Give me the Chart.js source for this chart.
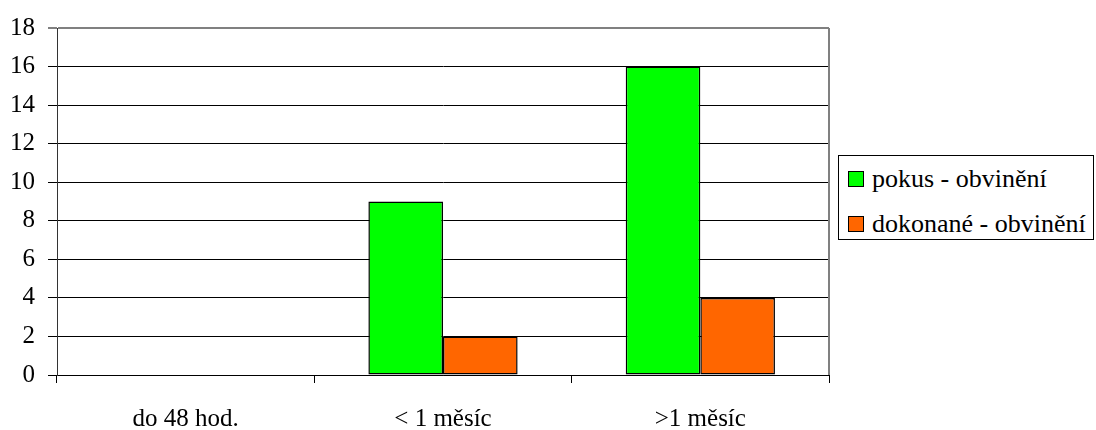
<!DOCTYPE html>
<html>
<head>
<meta charset="utf-8">
<script src="https://cdn.jsdelivr.net/npm/chart.js@4/dist/chart.umd.min.js"></script>
<style>
  html, body { margin: 0; padding: 0; background: #fff; }
  #wrap { position: relative; width: 1096px; height: 430px; }
  #c { position: absolute; left: 0; top: 0; }
  #legend {
    position: absolute; left: 838px; top: 155px; width: 254px; height: 83px;
    border: 1px solid #000; background: #fff; color: #000;
  }
  .item { position: absolute; left: 9px; display: flex; align-items: center; white-space: nowrap; }
  .sw { width: 14px; height: 14px; border: 1px solid #000; margin-right: 8px; flex: none; }
</style>
</head>
<body>
<div id="wrap">
  <canvas id="c" width="1096" height="430"></canvas>
  <div id="legend"></div>
</div>
<script>
// Categories and series
const categories = ['do 48 hod.', '< 1 měsíc', '>1 měsíc'];
const pokusObvineni = [0, 9, 16];
const dokonaneObvineni = [0, 2, 4];
const seriesNames = ['pokus - obvinění', 'dokonané - obvinění'];
const seriesColors = ['#00ff00', '#ff6600'];
const yMax = 18;
const yStep = 2;

const FAMILY = '"Liberation Serif", "Times New Roman", serif';
const AXIS_FONT = { family: FAMILY, size: 25 };
const LEGEND_SIZE = 26;

// Grey frame on the right of the plot area
const frame = {
  id: 'frame',
  afterDraw(chart) {
    const { ctx, chartArea: a } = chart;
    ctx.save();
    ctx.strokeStyle = '#808080';
    ctx.lineWidth = 2;
    ctx.beginPath();
    ctx.moveTo(a.right, a.top);
    ctx.lineTo(a.right, a.bottom);
    ctx.stroke();
    ctx.restore();
  }
};

const chart = new Chart(document.getElementById('c'), {
  type: 'bar',
  data: {
    labels: categories,
    datasets: [
      { label: seriesNames[0], data: pokusObvineni, backgroundColor: seriesColors[0],
        borderColor: '#000', borderWidth: 1.5, borderSkipped: false },
      { label: seriesNames[1], data: dokonaneObvineni, backgroundColor: seriesColors[1],
        borderColor: '#000', borderWidth: 1.5, borderSkipped: false }
    ]
  },
  options: {
    responsive: false,
    animation: false,
    devicePixelRatio: 1,
    layout: { padding: { left: 0, right: 267, top: 25, bottom: 0 } },
    datasets: { bar: { categoryPercentage: 0.58, barPercentage: 1.0 } },
    plugins: { legend: { display: false }, tooltip: { enabled: false } },
    scales: {
      x: {
        grid: { offset: true, drawOnChartArea: false, drawTicks: true, tickLength: 8,
                color: '#000', lineWidth: 1 },
        border: { color: '#000', width: 1 },
        ticks: { font: AXIS_FONT, color: '#000', padding: 21, maxRotation: 0 },
        afterFit(s) { s.height = 55; }
      },
      y: {
        min: 0, max: yMax,
        grid: {
          tickLength: 9,
          color: (c) => (c.tick && c.tick.value === yMax) ? '#808080' : '#000',
          lineWidth: (c) => (c.tick && c.tick.value === yMax) ? 2 : 1
        },
        border: { color: '#333', width: 1 },
        ticks: { stepSize: yStep, font: AXIS_FONT, color: '#000', padding: 13 },
        afterFit(s) { s.width = 57; }
      }
    }
  },
  plugins: [frame]
});

// Legend built from the datasets
const legend = document.getElementById('legend');
legend.style.fontFamily = FAMILY;
legend.style.fontSize = LEGEND_SIZE + 'px';
chart.data.datasets.forEach((ds, i) => {
  const item = document.createElement('div');
  item.className = 'item';
  item.style.top = (i === 0 ? 8 : 53) + 'px';
  const sw = document.createElement('span');
  sw.className = 'sw';
  sw.style.background = ds.backgroundColor;
  const tx = document.createElement('span');
  tx.textContent = ds.label;
  item.appendChild(sw);
  item.appendChild(tx);
  legend.appendChild(item);
});
</script>
</body>
</html>
